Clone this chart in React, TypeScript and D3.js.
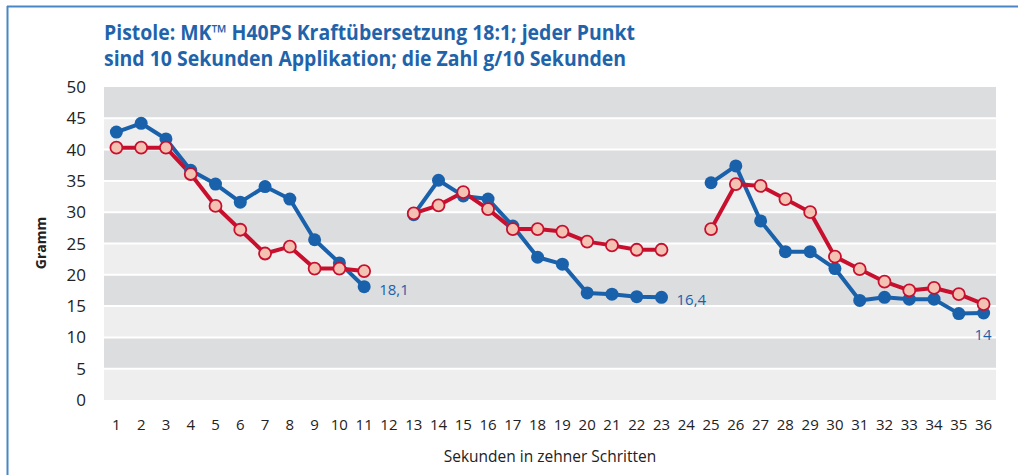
import React from "react";
import * as d3 from "d3";

const categories: number[] = Array.from({ length: 36 }, (_, i) => i + 1);
const yTicks: number[] = [0, 5, 10, 15, 20, 25, 30, 35, 40, 45, 50];

// null = gap
const blueValues: (number | null)[] = [
  42.8, 44.2, 41.7, 36.7, 34.5, 31.6, 34.1, 32.1, 25.6, 21.9, 18.1,
  null,
  29.6, 35.1, 32.6, 32.1, 27.8, 22.8, 21.7, 17.1, 16.9, 16.5, 16.4,
  null,
  34.7, 37.4, 28.6, 23.7, 23.7, 21.0, 15.9, 16.4, 16.1, 16.1, 13.8, 13.9,
];
const redValues: (number | null)[] = [
  40.3, 40.3, 40.3, 36.1, 31.0, 27.2, 23.4, 24.5, 21.0, 21.0, 20.6,
  null,
  29.8, 31.1, 33.2, 30.5, 27.3, 27.3, 26.9, 25.3, 24.7, 24.0, 24.0,
  null,
  27.3, 34.5, 34.2, 32.1, 30.0, 22.9, 20.9, 18.9, 17.5, 17.9, 16.9, 15.3,
];
const endLabels: { idx: number; text: string }[] = [
  { idx: 10, text: "18,1" },
  { idx: 22, text: "16,4" },
  { idx: 35, text: "14" },
];

const titleLines = [
  "Pistole: MK™ H40PS Kraftübersetzung 18:1; jeder Punkt",
  "sind 10 Sekunden Applikation; die Zahl g/10 Sekunden",
];

const BLUE = "#1a61ab";
const RED = "#c8102e";
const FONT = "'Open Sans', 'Noto Sans', sans-serif";

export default function App() {
  const W = 1018, H = 475;
  const left = 104, right = 996, top = 87, bottom = 400;
  const x = d3.scaleBand<number>().domain(categories).range([left, right]);
  const cx = (c: number) => (x(c) as number) + x.bandwidth() / 2;
  const y = d3.scaleLinear().domain([0, 50]).range([bottom, top]);

  const line = d3
    .line<number | null>()
    .defined((d) => d !== null)
    .x((_, i) => cx(categories[i]))
    .y((d) => y(d as number));

  const bands = yTicks.slice(0, -1).map((v, i) => ({
    v0: v,
    v1: yTicks[i + 1],
    dark: i % 2 === 1,
  }));

  return (
    <svg width={W} height={H} style={{ position: "absolute", left: 0, top: 0, background: "#fff" }}>
      {/* frame */}
      <line x1={7.5} y1={6} x2={7.5} y2={H} stroke="#4a86c6" strokeWidth={2} />
      <line x1={7} y1={6.5} x2={W} y2={6.5} stroke="#4a86c6" strokeWidth={2} />

      {/* title */}
      {titleLines.map((t, i) => (
        <text
          key={i}
          x={104}
          y={40 + i * 26}
          fill="#1f64ab"
          fontFamily={FONT}
          fontWeight={700}
          fontSize={21}
          textLength={i === 0 ? 531 : 522}
          lengthAdjust="spacingAndGlyphs"
        >
          {t}
        </text>
      ))}

      {/* bands */}
      {bands.map((b, i) => (
        <rect
          key={i}
          x={left}
          y={y(b.v1)}
          width={right - left}
          height={y(b.v0) - y(b.v1)}
          fill={b.dark ? "#dcdddf" : "#eeeeee"}
        />
      ))}
      {yTicks.slice(1, -1).map((v) => (
        <line key={v} x1={left} x2={right} y1={y(v)} y2={y(v)} stroke="#fff" strokeWidth={2} />
      ))}

      {/* y ticks */}
      {yTicks.map((v) => (
        <text key={v} x={86} y={y(v) + 6} textAnchor="end" fontFamily={FONT} fontSize={17} fill="#222">
          {v}
        </text>
      ))}
      {/* x ticks */}
      {categories.map((c) => (
        <text key={c} x={cx(c)} y={430} textAnchor="middle" fontFamily={FONT} fontSize={15} fill="#222">
          {c}
        </text>
      ))}

      <text
        transform={`translate(46,243) rotate(-90)`}
        textAnchor="middle"
        fontFamily={FONT}
        fontWeight={700}
        fontSize={14}
        fill="#222"
      >
        Gramm
      </text>
      <text x={550} y={462} textAnchor="middle" fontFamily={FONT} fontSize={15.5} fill="#222">
        Sekunden in zehner Schritten
      </text>

      {/* lines */}
      <path d={line(blueValues) || ""} fill="none" stroke={BLUE} strokeWidth={4} strokeLinejoin="round" />
      <path d={line(redValues) || ""} fill="none" stroke={RED} strokeWidth={4} strokeLinejoin="round" />
      {blueValues.map((v, i) =>
        v === null ? null : <circle key={"b" + i} cx={cx(categories[i])} cy={y(v)} r={6.5} fill={BLUE} />
      )}
      {redValues.map((v, i) =>
        v === null ? null : (
          <circle key={"r" + i} cx={cx(categories[i])} cy={y(v)} r={6} fill="#f3c2b3" stroke={RED} strokeWidth={1.8} />
        )
      )}

      {/* end labels */}
      {endLabels.map((l, k) => {
        const v = blueValues[l.idx] as number;
        const px = cx(categories[l.idx]);
        if (k === 2) {
          return (
            <text key={k} x={px + 8} y={y(v) + 27} textAnchor="end" fontFamily={FONT} fontSize={15} fill={BLUE}>
              {l.text}
            </text>
          );
        }
        return (
          <text key={k} x={px + 15} y={y(v) + 8} fontFamily={FONT} fontSize={15} fill={BLUE}>
            {l.text}
          </text>
        );
      })}
    </svg>
  );
}
